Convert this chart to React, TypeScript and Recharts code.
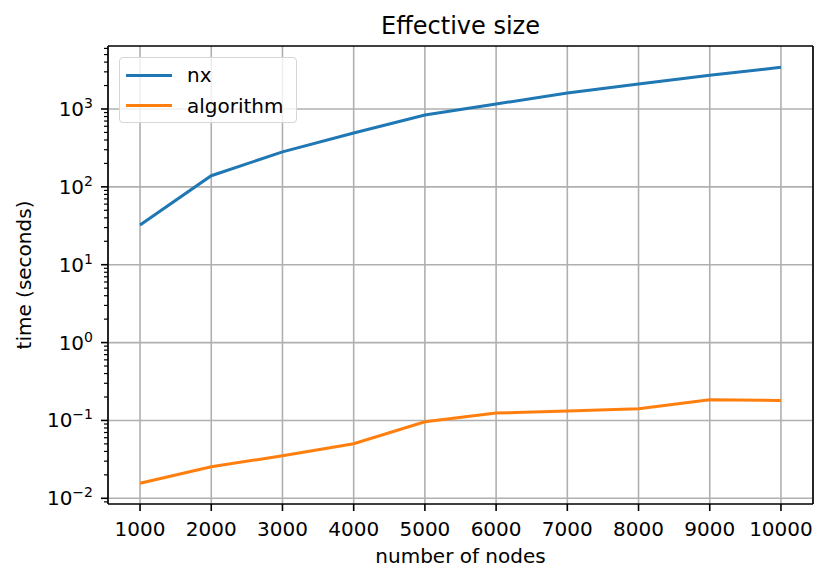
import React from 'react';
import {
  LineChart,
  Line,
  XAxis,
  YAxis,
  CartesianGrid,
  Legend,
  Label,
  ReferenceLine,
} from 'recharts';

const nodes = [1000, 2000, 3000, 4000, 5000, 6000, 7000, 8000, 9000, 10000];
const nxTimes = [32.4, 139, 281, 492, 837, 1159, 1606, 2094, 2711, 3432];
const algoTimes = [0.0156, 0.0254, 0.0352, 0.0502, 0.0962, 0.1245, 0.132, 0.141, 0.1845, 0.181];

const xTicks = [1000, 2000, 3000, 4000, 5000, 6000, 7000, 8000, 9000, 10000];
const xDomain = [550, 10450];
const yDomain = [0.00845, 6442];
const majorY = [0.01, 0.1, 1, 10, 100, 1000];
const minorY = [
  0.009,
  0.02, 0.03, 0.04, 0.05, 0.06, 0.07, 0.08, 0.09,
  0.2, 0.3, 0.4, 0.5, 0.6, 0.7, 0.8, 0.9,
  2, 3, 4, 5, 6, 7, 8, 9,
  20, 30, 40, 50, 60, 70, 80, 90,
  200, 300, 400, 500, 600, 700, 800, 900,
  2000, 3000, 4000, 5000, 6000,
];

const data = nodes.map((n, i) => ({ n, nx: nxTimes[i], algorithm: algoTimes[i] }));

const FONT = '"DejaVu Sans", sans-serif';
const BLUE = '#1f77b4';
const ORANGE = '#ff7f0e';

// y tick: long tick + 10^k label on decades, short tick otherwise
const YTick = (props: any) => {
  const { x, y, payload } = props;
  const v = payload.value;
  const exp = Math.round(Math.log10(v));
  const major = Math.abs(Math.log10(v) - exp) < 1e-6;
  return (
    <g>
      <line x1={x} x2={x - (major ? 7 : 4)} y1={y} y2={y} stroke="#000" strokeWidth={major ? 1.6 : 1.2} />
      {major && (
        <text x={x - 15} y={y + 7} textAnchor="end" fontFamily={FONT} fontSize={20} fill="#000">
          10
          <tspan dy={-8} fontSize={14}>
            {exp < 0 ? '\u2212' + Math.abs(exp) : exp}
          </tspan>
        </text>
      )}
    </g>
  );
};

const XTick = (props: any) => {
  const { x, y, payload } = props;
  return (
    <g>
      <line x1={x} x2={x} y1={y} y2={y + 7} stroke="#000" strokeWidth={1.6} />
      <text x={x} y={y + 32} textAnchor="middle" fontFamily={FONT} fontSize={20} fill="#000">
        {payload.value}
      </text>
    </g>
  );
};

const LegendBox = () => (
  <div
    style={{
      width: 176,
      height: 64,
      border: '1px solid #d6d6d6',
      borderRadius: 4,
      background: 'rgba(255,255,255,0.8)',
      fontFamily: FONT,
      fontSize: 20,
      color: '#000',
      position: 'relative',
    }}
  >
    {[
      { name: 'nx', color: BLUE },
      { name: 'algorithm', color: ORANGE },
    ].map((e, i) => (
      <div key={e.name} style={{ position: 'absolute', left: 6, top: 4 + i * 30.5, height: 26, display: 'flex', alignItems: 'center' }}>
        <div style={{ width: 46, height: 3, background: e.color }} />
        <span style={{ marginLeft: 15, lineHeight: '26px' }}>{e.name}</span>
      </div>
    ))}
  </div>
);

export default function App() {
  return (
    <div style={{ position: 'absolute', left: 0, top: 0, width: 830, height: 583, background: '#fff' }}>
      <LineChart width={830} height={583} data={data} margin={{ top: 46, right: 17, bottom: 0, left: 0 }}>
        <CartesianGrid stroke="#b0b0b0" strokeWidth={1.6} horizontalValues={majorY} />
        <XAxis
          dataKey="n"
          type="number"
          domain={xDomain}
          ticks={xTicks}
          interval={0}
          allowDataOverflow
          height={79}
          stroke="#000"
          strokeWidth={1.6}
          tickLine={false}
          tickSize={0}
          tickMargin={0}
          tick={<XTick />}
        >
          <Label
            content={() => (
              <g>
                <text x={460.5} y={563} textAnchor="middle" fontFamily={FONT} fontSize={20} fill="#000">
                  number of nodes
                </text>
                <text x={460.5} y={34} textAnchor="middle" fontFamily={FONT} fontSize={24} fill="#000">
                  Effective size
                </text>
              </g>
            )}
          />
        </XAxis>
        <YAxis
          type="number"
          scale="log"
          domain={yDomain}
          ticks={[...majorY, ...minorY].sort((a, b) => a - b)}
          interval={0}
          allowDataOverflow
          width={108}
          stroke="#000"
          strokeWidth={1.6}
          tickLine={false}
          tickSize={0}
          tickMargin={0}
          tick={<YTick />}
        >
          <Label
            content={() => (
              <text
                x={30.5}
                y={275}
                textAnchor="middle"
                fontFamily={FONT}
                fontSize={20}
                fill="#000"
                transform="rotate(-90, 30.5, 275)"
              >
                time (seconds)
              </text>
            )}
          />
        </YAxis>
        <Line dataKey="nx" stroke={BLUE} strokeWidth={3} dot={false} isAnimationActive={false} />
        <Line dataKey="algorithm" stroke={ORANGE} strokeWidth={3} dot={false} isAnimationActive={false} />
        {/* top and right spines */}
        <ReferenceLine y={yDomain[1]} stroke="#000" strokeWidth={1.6} />
        <ReferenceLine x={xDomain[1]} stroke="#000" strokeWidth={1.6} />
        <Legend
          layout="vertical"
          align="center"
          verticalAlign="middle"
          content={() => <LegendBox />}
          wrapperStyle={{ left: 119, top: 57, width: 'auto', height: 'auto' }}
        />
      </LineChart>
    </div>
  );
}
